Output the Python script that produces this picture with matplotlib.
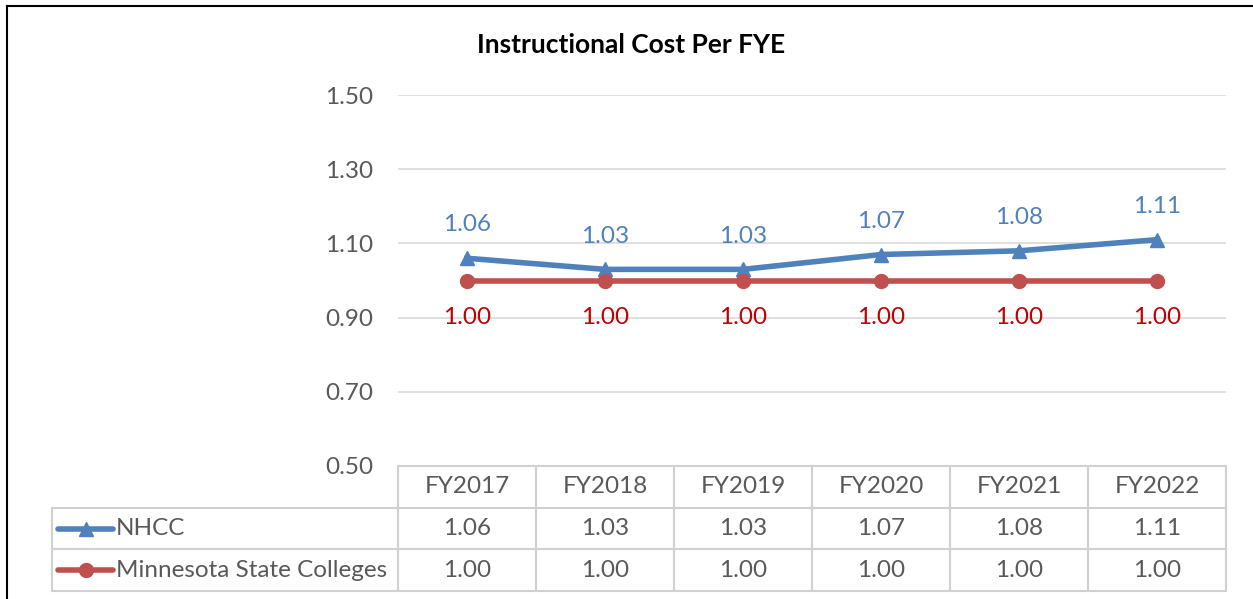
import matplotlib.pyplot as plt
from matplotlib.lines import Line2D

years = ["FY2017", "FY2018", "FY2019", "FY2020", "FY2021", "FY2022"]
nhcc = [1.06, 1.03, 1.03, 1.07, 1.08, 1.11]
mnstate = [1.00, 1.00, 1.00, 1.00, 1.00, 1.00]
series_names = ["NHCC", "Minnesota State Colleges"]
yticks = [0.50, 0.70, 0.90, 1.10, 1.30, 1.50]

blue = "#4F81BD"
red = "#C0504D"
label_red = "#C00000"
text_gray = "#595959"
grid_gray = "#D9D9D9"

plt.rcParams["font.family"] = ["Lato", "DejaVu Sans"]
fs = 17.5

W, H = 1253, 599
fig = plt.figure(figsize=(W / 100, H / 100), dpi=100)

def fx(px):
    return px / W

def fy(py):
    return 1 - py / H

# outer border (partially visible in the reference)
fig.add_artist(Line2D([fx(7), fx(1253)], [fy(6), fy(6)], color="black", lw=1.5))
fig.add_artist(Line2D([fx(7), fx(7)], [fy(6), fy(599)], color="black", lw=1.5))

left, right, top, bottom = 398, 1226, 95, 466
ax = fig.add_axes([fx(left), fy(bottom), fx(right - left), fy(top) - fy(bottom)])
x = list(range(len(years)))

ax.set_xlim(-0.5, len(years) - 0.5)
ax.set_ylim(0.5, 1.5)
ax.set_yticks(yticks)
ax.set_yticklabels([f"{v:.2f}" for v in yticks], color=text_gray, fontsize=fs)
ax.tick_params(axis="y", length=0, pad=18)
ax.set_xticks([])
for s in ax.spines.values():
    s.set_visible(False)
ax.grid(axis="y", color=grid_gray, lw=1.2)
ax.set_axisbelow(True)

ax.plot(x, nhcc, color=blue, lw=4, marker="^", ms=10, clip_on=False, zorder=3)
ax.plot(x, mnstate, color=red, lw=4, marker="o", ms=10, clip_on=False, zorder=3)

for xi, v in zip(x, nhcc):
    ax.annotate(f"{v:.2f}", (xi, v), xytext=(0, 24), textcoords="offset points",
                ha="center", va="center", color=blue, fontsize=fs)
for xi, v in zip(x, mnstate):
    ax.annotate(f"{v:.2f}", (xi, v), xytext=(0, -27), textcoords="offset points",
                ha="center", va="center", color=label_red, fontsize=fs)

fig.text(fx(631), fy(45), "Instructional Cost Per FYE", ha="center", va="center",
         fontsize=19, fontweight="bold", color="black")

# data table under the chart
tleft, tbottom = 52, 591
units_per_px = 1 / 138
tax = fig.add_axes([fx(tleft), fy(tbottom), fx(right - tleft), fy(bottom) - fy(tbottom)])
xmin = -0.5 - (left - tleft) * units_per_px
tax.set_xlim(xmin, len(years) - 0.5)
tax.set_ylim(3, 0)
tax.axis("off")

lc = "#D0D0D0"
# horizontal lines
tax.plot([-0.5, len(years) - 0.5], [0, 0], color=lc, lw=1.5, clip_on=False)
for yy in [1, 2, 3]:
    tax.plot([xmin, len(years) - 0.5], [yy, yy], color=lc, lw=1.5, clip_on=False)
# vertical lines
tax.plot([xmin, xmin], [1, 3], color=lc, lw=1.5, clip_on=False)
for i in range(len(years) + 1):
    tax.plot([i - 0.5, i - 0.5], [0, 3], color=lc, lw=1.5, clip_on=False)

for i, yr in enumerate(years):
    tax.text(i, 0.5, yr, ha="center", va="center", color=text_gray, fontsize=fs)
    tax.text(i, 1.5, f"{nhcc[i]:.2f}", ha="center", va="center", color=text_gray, fontsize=fs)
    tax.text(i, 2.5, f"{mnstate[i]:.2f}", ha="center", va="center", color=text_gray, fontsize=fs)

# legend keys inside the table
for row, (name, col, mk) in enumerate(zip(series_names, [blue, red], ["^", "o"])):
    yy = row + 1.5
    k0 = xmin + 6 * units_per_px
    k1 = xmin + 61 * units_per_px
    tax.plot([k0, k1], [yy, yy], color=col, lw=4, solid_capstyle="round", clip_on=False)
    tax.plot([(k0 + k1) / 2], [yy], color=col, marker=mk, ms=10, clip_on=False)
    tax.text(k1 + 3 * units_per_px, yy, name, ha="left", va="center",
             color=text_gray, fontsize=fs)

fig.savefig("out.png", dpi=100)
